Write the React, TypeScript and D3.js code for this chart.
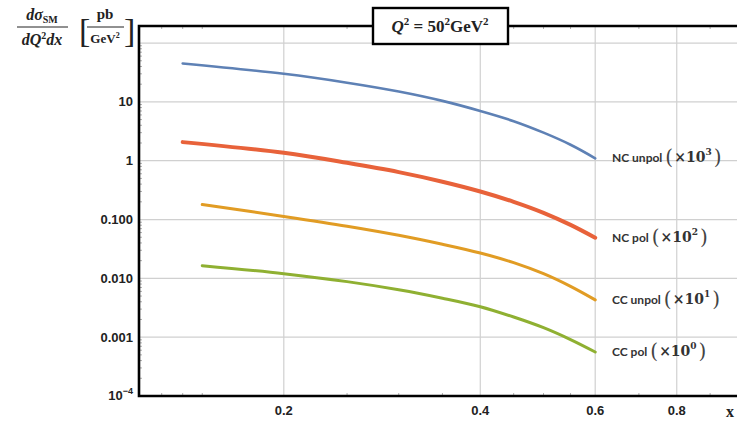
import React from "react";
import * as d3 from "d3";

// x values (log axis) for the two groups of curves
const xsNC = [0.14, 0.2, 0.25, 0.3, 0.35, 0.4, 0.45, 0.5, 0.55, 0.6];
const xsCC = [0.15, 0.2, 0.25, 0.3, 0.35, 0.4, 0.45, 0.5, 0.55, 0.6];

// cross sections, already scaled
const ncUnpol = [45, 30, 21.2, 15, 10.4, 7.0, 4.7, 3.0, 1.87, 1.1];
const ncPol = [2.07, 1.36, 0.92, 0.64, 0.44, 0.3, 0.2, 0.13, 0.081, 0.049];
const ccUnpol = [0.18, 0.113, 0.077, 0.054, 0.038, 0.027, 0.0185, 0.012, 0.0073, 0.0043];
const ccPol = [0.0164, 0.012, 0.0088, 0.0064, 0.0046, 0.0033, 0.0022, 0.00145, 0.00091, 0.00056];

const seriesNames = ["NC unpol", "NC pol", "CC unpol", "CC pol"];
const seriesPowers = ["3", "2", "1", "0"];

const yTickValues = [0.0001, 0.001, 0.01, 0.1, 1, 10];
const yTickLabels = ["", "0.001", "0.010", "0.100", "1", "10"];
const xTickValues = [0.2, 0.4, 0.6, 0.8];
const xTickLabels = ["0.2", "0.4", "0.6", "0.8"];
const xMinorTicks = [0.13, 0.14, 0.15, 0.25, 0.3, 0.35, 0.45, 0.5, 0.55, 0.7, 0.9];

const W = 737;
const H = 422;
const left = 139;
const top = 26;
const bottom = 396;

const App = () => {
  const x = d3.scaleLog().domain([0.12, 1.0]).range([left, 740]);
  const y = d3.scaleLog().domain([0.0001, 195]).range([bottom, top]);

  const series = [
    { xs: xsNC, ys: ncUnpol, color: "#5E81B5", width: 2.6 },
    { xs: xsNC, ys: ncPol, color: "#E8623A", width: 4 },
    { xs: xsCC, ys: ccUnpol, color: "#E19C24", width: 3 },
    { xs: xsCC, ys: ccPol, color: "#8FB032", width: 3 },
  ];

  const line = d3
    .line<[number, number]>()
    .x((d) => x(d[0]))
    .y((d) => y(d[1]))
    .curve(d3.curveCatmullRom.alpha(0.5));

  // minor ticks on the y axis
  const yMinor: number[] = [];
  for (let e = -4; e <= 2; e++) {
    for (let k = 2; k <= 9; k++) {
      const v = k * Math.pow(10, e);
      if (v <= 195) yMinor.push(v);
    }
  }

  const sans = "'Liberation Sans', Arial, sans-serif";
  const serif = "'Liberation Serif', 'DejaVu Serif', serif";
  const mathFont = "'DejaVu Serif', serif";
  const labelFont = "Lato, 'Open Sans', sans-serif";

  return (
    <svg width={W} height={H} style={{ position: "absolute", left: 0, top: 0, background: "#fff" }}>
      {/* grid */}
      {yTickValues.concat([100]).map((v) => (
        <line key={"gy" + v} x1={left} x2={W} y1={y(v)} y2={y(v)} stroke="#d0d0d0" strokeWidth={1.2} />
      ))}
      {xTickValues.map((v) => (
        <line key={"gx" + v} x1={x(v)} x2={x(v)} y1={top} y2={bottom} stroke="#d0d0d0" strokeWidth={1.2} />
      ))}

      {/* minor ticks */}
      {yMinor.map((v) => (
        <line key={"ym" + v} x1={left} x2={left + 3} y1={y(v)} y2={y(v)} stroke="#999" strokeWidth={0.8} />
      ))}
      {xMinorTicks.map((v) => (
        <g key={"xm" + v}>
          <line x1={x(v)} x2={x(v)} y1={bottom} y2={bottom - 3} stroke="#999" strokeWidth={0.8} />
          <line x1={x(v)} x2={x(v)} y1={top} y2={top + 3} stroke="#999" strokeWidth={0.8} />
        </g>
      ))}

      {/* curves */}
      {series.map((s, i) => (
        <path
          key={"s" + i}
          d={line(s.xs.map((v, j) => [v, s.ys[j]] as [number, number])) || ""}
          fill="none"
          stroke={s.color}
          strokeWidth={s.width}
          strokeLinecap="round"
        />
      ))}

      {/* frame */}
      <path d={`M${W + 5},${top} H${left} V${bottom} H${W + 5}`} fill="none" stroke="#000" strokeWidth={2.6} />

      {/* y tick labels */}
      {yTickValues.map((v, i) =>
        yTickLabels[i] ? (
          <text key={"yl" + v} x={left - 6} y={y(v)} dy="0.35em" textAnchor="end" fontFamily={sans} fontWeight="bold" fontSize={13} fill="#222">
            {yTickLabels[i]}
          </text>
        ) : null
      )}
      <text x={left - 6} y={bottom + 4} textAnchor="end" fontFamily={sans} fontWeight="bold" fontSize={13} fill="#222">
        10<tspan dy={-6} fontSize={9}>−4</tspan>
      </text>

      {/* x tick labels */}
      {xTickValues.map((v, i) => (
        <text key={"xl" + v} x={x(v)} y={415} textAnchor="middle" fontFamily={sans} fontWeight="bold" fontSize={13} fill="#222">
          {xTickLabels[i]}
        </text>
      ))}
      <text x={730} y={417} textAnchor="middle" fontFamily={serif} fontWeight="bold" fontSize={16} fill="#222">
        x
      </text>

      {/* curve labels */}
      {series.map((s, i) => {
        const yy = y(s.ys[s.ys.length - 1]) + 4;
        return (
          <text key={"lab" + i} x={612} y={yy} fontFamily={labelFont} fontWeight="bold" fontSize={12} fill="#333">
            {seriesNames[i]}
            <tspan dx={3} fontFamily={mathFont} fontWeight="normal" fontSize={20} dy={2} fill="#444">(</tspan>
            <tspan dx={1} fontFamily={mathFont} fontSize={14} dy={-2}>×10</tspan>
            <tspan fontFamily={mathFont} fontSize={9} dy={-7}>{seriesPowers[i]}</tspan>
            <tspan dx={2} fontFamily={mathFont} fontWeight="normal" fontSize={20} dy={9} fill="#444">)</tspan>
          </text>
        );
      })}

      {/* title box */}
      <rect x={373} y={8} width={135} height={36} fill="#fff" stroke="#000" strokeWidth={2.4} />
      <text x={440} y={32} textAnchor="middle" fontFamily={serif} fontWeight="bold" fontSize={17} fill="#222">
        <tspan fontStyle="italic">Q</tspan>
        <tspan dy={-7} fontSize={11}>2</tspan>
        <tspan dy={7}> = 50</tspan>
        <tspan dy={-7} fontSize={11}>2</tspan>
        <tspan dy={7}>GeV</tspan>
        <tspan dy={-7} fontSize={11}>2</tspan>
      </text>

      {/* y axis label */}
      <g fontFamily={serif} fontWeight="bold" fill="#222">
        <text x={42} y={20} textAnchor="middle" fontSize={16} fontStyle="italic">
          dσ<tspan dy={3} fontSize={10} fontStyle="normal">SM</tspan>
        </text>
        <line x1={17} x2={68} y1={27} y2={27} stroke="#222" strokeWidth={1} />
        <text x={42} y={45} textAnchor="middle" fontSize={16} fontStyle="italic">
          dQ<tspan dy={-6} fontSize={10} fontStyle="normal">2</tspan>
          <tspan dy={6}>dx</tspan>
        </text>
        <text x={79} y={42} fontSize={34} fontWeight="normal">[</text>
        <text x={105} y={19} textAnchor="middle" fontSize={15}>pb</text>
        <line x1={87} x2={124} y1={27} y2={27} stroke="#222" strokeWidth={1} />
        <text x={105} y={43} textAnchor="middle" fontSize={13}>
          GeV<tspan dy={-5} fontSize={8}>2</tspan>
        </text>
        <text x={124} y={42} fontSize={34} fontWeight="normal">]</text>
      </g>
    </svg>
  );
};

export default App;
